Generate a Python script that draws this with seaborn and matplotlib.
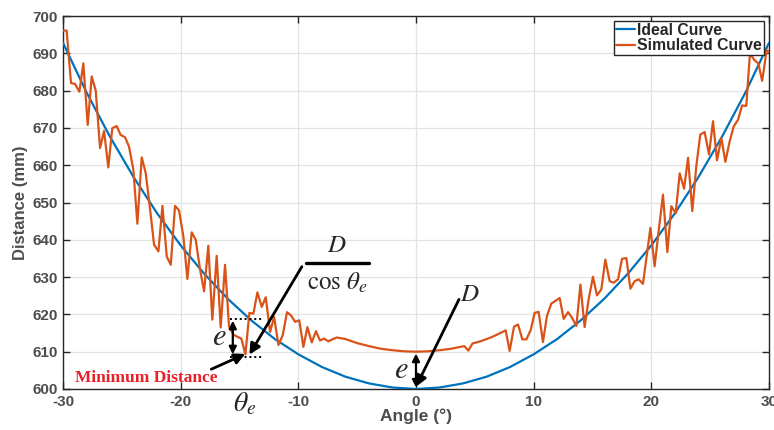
import numpy as np
import pandas as pd
import matplotlib
matplotlib.use("Agg")
import matplotlib.pyplot as plt
import seaborn as sns
from matplotlib.lines import Line2D

# Ideal range curve D / cos(theta), sampled every 2 degrees
ideal_angle = [-30, -28, -26, -24, -22, -20, -18, -16, -14, -12, -10, -8, -6, -4, -2,
               0, 2, 4, 6, 8, 10, 12, 14, 16, 18, 20, 22, 24, 26, 28, 30]
ideal_dist = [692.8, 679.5, 667.6, 656.8, 647.1, 638.5, 630.9, 624.2, 618.4, 613.4,
              609.3, 605.9, 603.3, 601.5, 600.4, 600.0, 600.4, 601.5, 603.3, 605.9,
              609.3, 613.4, 618.4, 624.2, 630.9, 638.5, 647.1, 656.8, 667.6, 679.5, 692.8]

# Simulated (noisy) range measurements
sim_angle = [-30.00, -29.69, -29.32, -28.98, -28.61, -28.27, -27.90, -27.56, -27.22, -26.85,
             -26.51, -26.15, -25.81, -25.44, -25.10, -24.73, -24.39, -24.02, -23.68, -23.31,
             -22.97, -22.61, -22.26, -21.89, -21.55, -21.18, -20.84, -20.48, -20.14, -19.77,
             -19.43, -19.06, -18.72, -18.35, -18.01, -17.65, -17.31, -16.94, -16.60, -16.23,
             -15.89, -15.52, -15.18, -14.84, -14.50, -14.16, -13.82, -13.48, -13.11, -12.77,
             -12.40, -12.06, -11.69, -11.33, -10.96, -10.62, -10.27, -9.92, -9.57, -9.23,
             -8.86, -8.50, -8.16, -7.82, -7.45, -7.11, -6.74, -6.00, -5.00, -4.00,
             -3.00, -2.00, -1.00, 0.00, 1.00, 2.00, 3.00, 4.10, 4.45, 4.80,
             5.50, 6.50, 7.62, 7.96, 8.33, 8.67, 9.04, 9.38, 9.75, 10.08,
             10.42, 10.79, 11.13, 11.50, 11.84, 12.21, 12.55, 12.92, 13.26, 13.63,
             13.97, 14.33, 14.67, 15.04, 15.38, 15.75, 16.09, 16.46, 16.80, 17.17,
             17.51, 17.88, 18.22, 18.58, 18.92, 19.29, 19.63, 19.92, 20.28, 20.62,
             20.99, 21.36, 21.70, 22.07, 22.41, 22.78, 23.12, 23.48, 23.82, 24.16,
             24.53, 24.90, 25.24, 25.58, 25.95, 26.29, 26.66, 27.00, 27.37, 27.71,
             28.07, 28.38, 28.75, 29.09, 29.42, 29.80, 30.00]
sim_dist = [696.1, 696.1, 682.0, 681.8, 679.7, 687.3, 670.8, 683.8, 680.0, 664.6,
            669.2, 659.4, 669.9, 670.5, 668.1, 667.5, 665.0, 658.8, 644.3, 662.1,
            657.9, 648.5, 638.7, 636.9, 649.1, 635.5, 633.3, 649.1, 647.9, 640.9,
            629.5, 642.0, 640.0, 632.0, 626.2, 638.4, 618.6, 635.7, 616.5, 633.3,
            616.8, 614.6, 614.0, 613.5, 609.3, 620.4, 620.2, 625.9, 622.0, 624.6,
            615.3, 619.3, 611.8, 614.4, 620.6, 619.7, 618.0, 618.4, 611.3, 616.6,
            612.5, 615.5, 613.0, 613.5, 612.8, 613.3, 613.8, 613.4, 612.3, 611.5,
            610.8, 610.4, 610.1, 610.0, 610.1, 610.4, 610.8, 611.5, 610.3, 612.2,
            612.8, 614.0, 615.7, 610.2, 616.7, 617.3, 613.3, 613.3, 615.8, 620.4,
            620.7, 612.6, 619.6, 622.9, 623.6, 624.4, 618.8, 620.6, 619.1, 616.9,
            628.0, 616.6, 624.0, 630.1, 625.1, 626.7, 634.7, 628.9, 628.5, 629.4,
            634.9, 635.1, 626.9, 628.9, 629.4, 628.2, 636.3, 643.2, 632.9, 642.3,
            652.1, 636.7, 649.0, 647.1, 657.8, 653.7, 662.0, 647.7, 659.7, 668.2,
            668.9, 662.9, 671.8, 661.3, 667.3, 660.9, 666.4, 670.4, 672.2, 676.0,
            675.9, 690.0, 688.2, 687.3, 682.6, 690.8, 690.5]

x_ticks = [-30, -20, -10, 0, 10, 20, 30]
y_ticks = [600, 610, 620, 630, 640, 650, 660, 670, 680, 690, 700]

D = 600.0          # true range at normal incidence
e = 10.0           # range error
theta_e = -14.16   # angle where the ideal curve meets D + e
theta_min = -14.50 # angle of the minimum measured distance

BLUE = "#0072BD"
ORANGE = "#D95319"
TXT = "#4d4d4d"

sns.set_theme(style="whitegrid")
plt.rcParams["font.family"] = ["Liberation Sans", "DejaVu Sans"]
plt.rcParams["mathtext.fontset"] = "stix"

W, H = 774, 430
fig = plt.figure(figsize=(W / 100, H / 100), dpi=100)
ax = fig.add_axes([63 / W, (H - 389) / H, 706 / W, 373 / H])


def fpx(x, y):
    """Figure-pixel position (origin top-left) to figure fraction."""
    return x / W, 1 - y / H


ideal_df = pd.DataFrame({"Angle": ideal_angle, "Distance": ideal_dist})
sim_df = pd.DataFrame({"Angle": sim_angle, "Distance": sim_dist})

sns.lineplot(data=ideal_df, x="Angle", y="Distance", ax=ax, color=BLUE,
             linewidth=1.6, label="Ideal Curve", zorder=3)
sns.lineplot(data=sim_df, x="Angle", y="Distance", ax=ax, color=ORANGE,
             linewidth=1.6, label="Simulated Curve", zorder=3)

ax.set_xlim(-30, 30)
ax.set_ylim(600, 700)
ax.set_xticks(x_ticks)
ax.set_yticks(y_ticks)
ax.set_xticklabels([str(t) for t in x_ticks])
ax.set_yticklabels([str(t) for t in y_ticks])
ax.grid(True, color="#e3e3e3", linewidth=0.9)
ax.set_facecolor("white")
for s in ax.spines.values():
    s.set_visible(True)
    s.set_color("#262626")
    s.set_linewidth(1.0)
ax.tick_params(axis="both", which="both", direction="in", length=5, width=1,
               color="#262626", top=True, right=True, bottom=True, left=True,
               labelsize=11, labelcolor=TXT, pad=4)
for lab in ax.get_xticklabels() + ax.get_yticklabels():
    lab.set_fontweight("bold")
ax.set_xlabel("Angle (°)", fontsize=12.5, fontweight="bold", color=TXT, labelpad=0)
ax.set_ylabel("Distance (mm)", fontsize=12, fontweight="bold", color=TXT, labelpad=3)

leg = ax.legend(loc="upper right", bbox_to_anchor=(0.993, 0.987), frameon=True,
                fancybox=False, framealpha=1, edgecolor="#262626",
                prop={"weight": "bold", "size": 11.3}, handlelength=1.2,
                handletextpad=0.15, borderpad=0.12, labelspacing=0.02,
                borderaxespad=0)
leg.get_frame().set_linewidth(1.0)
leg.set_zorder(10)

arrow_kw = dict(arrowstyle="-|>", color="black", lw=2.0, mutation_scale=16,
                shrinkA=0, shrinkB=0)
dbl_kw = dict(arrowstyle="<|-|>", color="black", lw=1.6, mutation_scale=11,
              shrinkA=0, shrinkB=0)

# D / cos(theta_e) label with its arrow to the ideal curve
fig.text(*fpx(337, 245), r"$D$", fontsize=18, ha="center", va="center")
fig.add_artist(Line2D([306 / W, 369 / W], [1 - 263 / H, 1 - 263 / H],
                      color="black", lw=2.4, transform=fig.transFigure))
fig.text(*fpx(337, 283), r"$\cos\,\theta_e$", fontsize=18, ha="center", va="center")
ax.annotate("", xy=(theta_e, D + e - 0.8), xytext=(-9.7, 632.8), arrowprops=arrow_kw)

# D label pointing at the ideal minimum
fig.text(*fpx(470, 294), r"$D$", fontsize=18, ha="center", va="center")
ax.annotate("", xy=(0, D + 0.6), xytext=(3.65, 624.0), arrowprops=arrow_kw)

# error e at normal incidence
ax.annotate("", xy=(0, D + 0.4), xytext=(0, D + e - 0.5), arrowprops=dbl_kw)
fig.text(*fpx(401, 370), r"$e$", fontsize=22, ha="center", va="center")

# error e at theta_e, with dotted reference levels
ax.plot([-15.8, -13.1], [D + e + 8.8, D + e + 8.8], color="black", lw=1.4,
        linestyle=(0, (1, 1.5)), zorder=4)
ax.plot([-15.8, -13.1], [D + e - 1.3, D + e - 1.3], color="black", lw=1.4,
        linestyle=(0, (1, 1.5)), zorder=4)
ax.annotate("", xy=(-15.57, 609.3), xytext=(-15.57, 618.3), arrowprops=dbl_kw)
fig.text(*fpx(219, 337), r"$e$", fontsize=22, ha="center", va="center")

# minimum distance callout
fig.text(*fpx(146, 378), "Minimum Distance", fontsize=12.5, fontweight="bold",
         color="#e8202a", family=["Liberation Serif", "DejaVu Serif"],
         ha="center", va="center")
ax.annotate("", xy=(theta_min, 609.4), xytext=(-17.4, 605.3), arrowprops=arrow_kw)

# theta_e label under the axis
fig.text(*fpx(245, 404), r"$\theta_e$", fontsize=20, ha="center", va="center")

fig.savefig("out.png", dpi=100, facecolor="white")
